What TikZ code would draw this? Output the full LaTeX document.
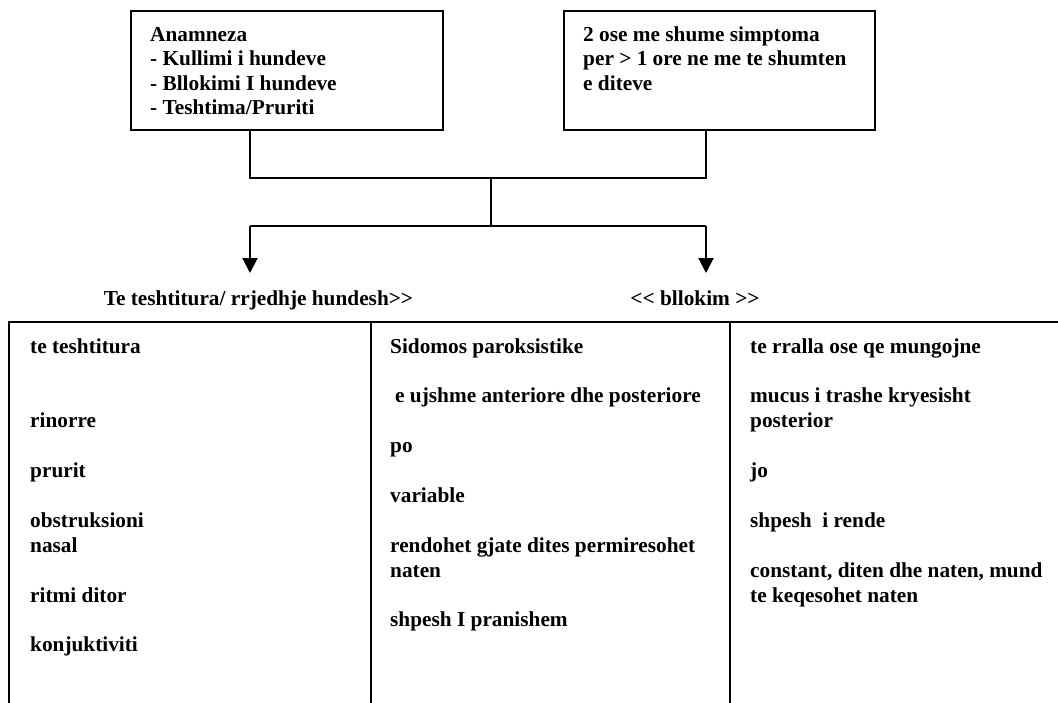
\documentclass[tikz,border=0pt]{standalone}
\usepackage{fontspec}
\setmainfont{Liberation Serif}
\usetikzlibrary{arrows.meta}
\begin{document}
\begin{tikzpicture}[x=1pt,y=-1pt,
  txt/.style={anchor=base west, inner sep=0pt, font=\fontsize{21.3}{24.9}\selectfont\bfseries},
  hdr/.style={txt, anchor=base},
  frame/.style={draw, line width=2pt},
  box/.style={frame, anchor=north west, inner sep=0pt, minimum width=312pt, minimum height=119pt},
  link/.style={line width=2pt},
  arr/.style={link, -{Triangle[width=15pt,length=15pt]}}
]
\useasboundingbox (0,0) rectangle (1058,702);
% top boxes
\node[box] (b1) at (130,10) {};
\node[box, minimum width=311pt] (b2) at (563,10) {};
\node[txt] (b1l1) at (150,41) {Anamneza};
\node[txt] (b1l2) at (150,65.6) {- Kullimi i hundeve};
\node[txt] (b1l3) at (150,90.2) {- Bllokimi I hundeve};
\node[txt] (b1l4) at (150,114.8) {- Teshtima/Pruriti};
\node[txt] (b2l1) at (583,41) {2 ose me shume simptoma};
\node[txt] (b2l2) at (583,65.6) {per > 1 ore ne me te shumten};
\node[txt] (b2l3) at (583,90.2) {e diteve};
% connectors
\coordinate (jl) at (250,178);
\coordinate (jr) at (706,178);
\coordinate (jc) at (491,178);
\coordinate (sc) at (491,226);
\coordinate (sl) at (250,226);
\coordinate (sr) at (706,226);
\coordinate (tl) at (250,273);
\coordinate (tr) at (706,273);
\draw[link] (b1.south -| jl) -- (jl) -- (jr) -- (b2.south -| jr);
\draw[link] (jc) -- (sc);
\draw[link] (sl) -- (sr);
\draw[arr] (sl) -- (tl);
\draw[arr] (sr) -- (tr);
% headers
\node[hdr] (h1) at (258.5,305) {Te teshtitura/ rrjedhje hundesh>{}>};
\node[hdr] (h2) at (695,305) {<{}< bllokim >{}>};
% table
\draw[frame] (9,703) -- (9,322) -- (1059,322);
\draw[frame] (371,322) -- (371,703);
\draw[frame] (730,322) -- (730,703);
% column 1
\node[txt] (c1a) at (30,353) {te teshtitura};
\node[txt] (c1b) at (30,427.7) {rinorre};
\node[txt] (c1c) at (30,477.5) {prurit};
\node[txt] (c1d) at (30,527.3) {obstruksioni};
\node[txt] (c1e) at (30,552.2) {nasal};
\node[txt] (c1f) at (30,602) {ritmi ditor};
\node[txt] (c1g) at (30,651.8) {konjuktiviti};
% column 2
\node[txt] (c2a) at (390,353) {Sidomos paroksistike};
\node[txt] (c2b) at (395,402.8) {e ujshme anteriore dhe posteriore};
\node[txt] (c2c) at (390,452.6) {po};
\node[txt] (c2d) at (390,502.4) {variable};
\node[txt] (c2e) at (390,552.2) {rendohet gjate dites permiresohet};
\node[txt] (c2f) at (390,577.1) {naten};
\node[txt] (c2g) at (390,626.9) {shpesh I pranishem};
% column 3
\node[txt] (c3a) at (750,353) {te rralla ose qe mungojne};
\node[txt] (c3b) at (750,402.8) {mucus i trashe kryesisht};
\node[txt] (c3c) at (750,427.7) {posterior};
\node[txt] (c3d) at (750,477.5) {jo};
\node[txt] (c3e) at (750,527.3) {shpesh~~i rende};
\node[txt] (c3f) at (750,577.1) {constant, diten dhe naten, mund};
\node[txt] (c3g) at (750,602) {te keqesohet naten};
\end{tikzpicture}
\end{document}
